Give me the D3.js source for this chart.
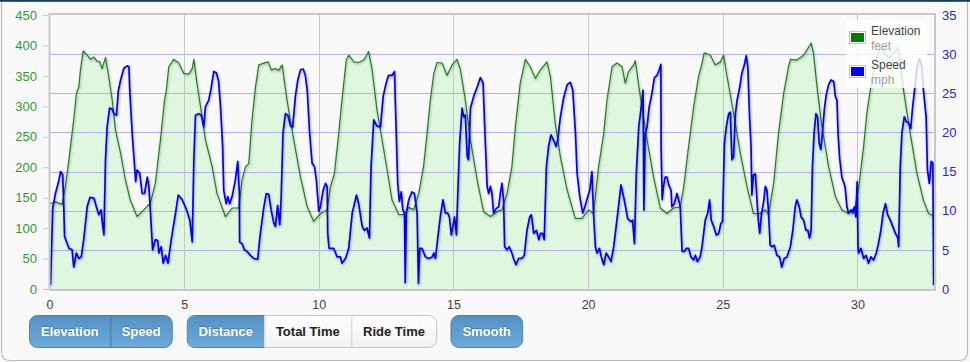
<!DOCTYPE html>
<html><head><meta charset="utf-8">
<script src="https://cdn.jsdelivr.net/npm/d3@7/dist/d3.min.js"></script>
<style>
html,body{margin:0;padding:0;background:#f9f9f9;overflow:hidden;}
svg{display:block;font-family:"Liberation Sans",Arial,Helvetica,sans-serif;}
</style></head><body>
<svg id="c" width="970" height="362"></svg>
<script>
// ---- data: [distance (mi), elevation (feet)] ----
const elevation = [
[0,140],[0.22,143],[0.47,139],[0.59,168],[0.72,212],[0.84,256],[0.90,278],[1.0,321],[1.09,332],[1.15,360],
[1.25,391],[1.40,384],[1.52,377],[1.65,381],[1.77,374],[1.87,373],[1.95,362],[2.08,380],[2.20,349],[2.33,310],
[2.45,261],[2.64,223],[2.82,179],[3.0,146],[3.25,119],[3.50,130],[3.75,142],[3.93,174],[4.12,245],[4.27,310],
[4.34,327],[4.43,365],[4.61,377],[4.80,371],[4.99,354],[5.17,353],[5.30,362],[5.36,377],[5.46,343],[5.61,299],
[5.79,245],[6.04,201],[6.22,157],[6.53,119],[6.78,133],[7.03,133],[7.15,179],[7.28,201],[7.40,206],[7.52,278],
[7.65,332],[7.77,368],[7.96,371],[8.12,373],[8.23,360],[8.39,362],[8.51,359],[8.64,368],[8.82,310],[9.07,245],
[9.32,184],[9.57,135],[9.81,111],[10.06,124],[10.31,130],[10.43,168],[10.58,190],[10.74,256],[10.86,310],[11.02,376],
[11.11,384],[11.30,373],[11.48,372],[11.67,376],[11.85,390],[11.98,360],[12.16,294],[12.35,245],[12.54,195],[12.72,146],
[12.97,122],[13.15,122],[13.34,134],[13.52,130],[13.71,157],[13.89,201],[14.02,256],[14.14,310],[14.27,354],[14.39,372],
[14.58,371],[14.76,351],[14.95,368],[15.13,377],[15.26,360],[15.44,310],[15.63,245],[15.88,179],[16.12,127],[16.37,119],
[16.62,127],[16.80,130],[16.99,157],[17.17,201],[17.30,267],[17.48,338],[17.67,377],[17.85,365],[18.04,346],[18.23,360],
[18.47,373],[18.60,349],[18.78,272],[18.97,217],[19.22,163],[19.52,116],[19.77,116],[20.02,130],[20.20,124],[20.39,201],
[20.58,256],[20.70,310],[20.89,365],[21.07,371],[21.26,365],[21.38,338],[21.50,357],[21.69,368],[21.75,375],[21.94,316],
[22.19,245],[22.43,184],[22.68,133],[22.93,124],[23.17,133],[23.42,135],[23.55,168],[23.73,234],[23.92,299],[24.10,349],
[24.23,371],[24.31,388],[24.54,384],[24.72,368],[24.91,373],[25.03,384],[25.16,349],[25.40,289],[25.65,223],[25.90,168],
[26.14,124],[26.39,124],[26.58,130],[26.70,122],[26.89,174],[27.07,256],[27.26,321],[27.44,365],[27.51,377],[27.75,376],
[28.00,384],[28.12,392],[28.28,404],[28.37,387],[28.50,332],[28.68,267],[28.93,201],[29.18,152],[29.42,130],[29.67,124],
[29.92,135],[30.05,168],[30.23,234],[30.35,289],[30.54,345],[30.70,380],[30.85,397],[31.18,379],[31.52,397],[31.71,327],
[31.96,256],[32.21,190],[32.45,146],[32.64,124],[32.85,120]
];
// ---- data: [distance (mi), speed (mph)] ----
const speed = [
[0,0.5],[0.04,0.7],[0.12,10.3],[0.22,12.2],[0.35,13.9],[0.41,15.0],[0.49,14.6],[0.53,10.5],[0.56,6.7],[0.72,5.2],
[0.84,5.0],[0.90,2.8],[1.00,4.6],[1.09,3.9],[1.18,4.1],[1.27,6.3],[1.40,10.5],[1.50,11.7],[1.65,11.6],[1.74,10.5],
[1.83,9.5],[1.92,10.1],[1.95,8.8],[2.02,6.9],[2.08,16.5],[2.14,20.7],[2.23,23.1],[2.33,23.0],[2.39,22.4],[2.49,22.2],
[2.55,25.2],[2.64,26.7],[2.76,28.2],[2.88,28.5],[2.95,28.4],[2.98,25.4],[3.07,19.9],[3.17,15.2],[3.20,13.7],[3.25,15.2],
[3.35,14.8],[3.44,12.2],[3.53,12.2],[3.63,14.3],[3.69,13.1],[3.75,9.7],[3.83,5.0],[3.93,6.3],[4.02,6.2],[4.06,4.6],
[4.15,5.4],[4.22,3.3],[4.31,4.3],[4.40,3.3],[4.52,6.3],[4.68,9.7],[4.78,12.0],[4.93,11.4],[5.09,10.1],[5.21,8.8],
[5.30,6.0],[5.36,16.5],[5.42,22.2],[5.54,22.4],[5.64,22.2],[5.73,20.7],[5.79,23.3],[5.91,24.1],[6.00,25.6],[6.10,27.8],
[6.20,27.6],[6.28,26.5],[6.35,23.3],[6.43,18.2],[6.47,12.6],[6.56,10.9],[6.62,11.8],[6.69,10.9],[6.78,11.8],[6.90,13.9],
[6.99,16.3],[7.05,12.2],[7.06,6.0],[7.15,5.8],[7.24,5.0],[7.34,4.8],[7.46,4.3],[7.58,3.9],[7.73,3.8],[7.83,7.1],
[7.96,10.5],[8.05,12.2],[8.14,12.1],[8.23,10.1],[8.33,8.4],[8.39,8.0],[8.47,10.7],[8.55,8.2],[8.60,11.4],[8.67,19.9],
[8.76,22.4],[8.85,22.2],[8.95,20.8],[9.03,20.7],[9.13,24.6],[9.22,26.7],[9.32,28.0],[9.42,28.1],[9.50,27.3],[9.57,25.4],
[9.66,19.9],[9.75,16.1],[9.84,15.6],[9.91,13.9],[10.00,9.9],[10.06,10.5],[10.16,12.6],[10.25,13.5],[10.31,13.1],[10.33,7.1],
[10.38,5.2],[10.55,5.2],[10.68,4.1],[10.80,4.1],[10.86,3.3],[10.99,3.9],[11.11,5.2],[11.24,9.7],[11.40,12.0],[11.48,10.9],
[11.61,8.0],[11.69,7.5],[11.79,7.8],[11.88,6.5],[11.94,15.6],[12.04,21.6],[12.16,20.8],[12.29,20.7],[12.39,24.6],[12.50,26.3],
[12.59,27.3],[12.72,27.3],[12.81,27.8],[12.84,24.1],[12.93,13.5],[12.99,11.2],[13.06,12.4],[13.12,10.1],[13.18,9.7],[13.21,0.8],
[13.25,9.7],[13.34,11.4],[13.46,12.4],[13.55,12.2],[13.65,9.7],[13.70,0.7],[13.75,5.2],[13.83,5.2],[13.96,4.1],[14.08,3.9],
[14.21,4.1],[14.27,4.6],[14.33,3.9],[14.41,6.3],[14.51,9.2],[14.61,11.4],[14.70,9.7],[14.79,9.7],[14.85,9.2],[14.92,6.9],
[14.98,8.0],[15.04,9.2],[15.11,6.9],[15.17,13.1],[15.23,18.6],[15.32,23.1],[15.38,22.0],[15.44,22.2],[15.51,16.9],[15.56,16.5],
[15.63,23.1],[15.75,24.6],[15.88,25.8],[16.00,27.0],[16.10,26.3],[16.16,20.7],[16.25,13.1],[16.31,12.2],[16.37,13.1],[16.43,12.2],
[16.49,9.7],[16.59,10.3],[16.68,10.5],[16.74,12.2],[16.80,13.5],[16.86,11.4],[16.90,5.4],[16.99,5.0],[17.07,5.4],[17.17,4.6],
[17.23,3.9],[17.32,3.1],[17.42,3.9],[17.54,3.9],[17.63,4.3],[17.73,7.5],[17.83,9.2],[17.89,9.5],[17.98,7.1],[18.08,7.5],
[18.17,6.3],[18.23,7.1],[18.31,7.1],[18.37,6.3],[18.45,15.6],[18.53,18.2],[18.62,19.7],[18.72,19.0],[18.81,18.2],[18.87,19.0],
[18.97,22.0],[19.09,24.4],[19.22,26.1],[19.34,26.4],[19.43,25.4],[19.53,19.9],[19.59,14.8],[19.69,11.8],[19.80,9.7],[19.88,10.5],
[19.96,11.5],[20.06,12.6],[20.14,15.0],[20.20,9.7],[20.27,5.4],[20.33,4.6],[20.42,5.2],[20.49,4.1],[20.58,3.1],[20.67,4.6],
[20.76,4.1],[20.85,3.5],[20.95,5.4],[21.10,9.7],[21.22,13.3],[21.34,11.4],[21.47,9.0],[21.59,8.6],[21.65,8.8],[21.72,5.8],
[21.79,14.8],[21.88,20.7],[21.96,22.9],[22.04,25.4],[22.07,10.1],[22.12,19.9],[22.19,20.7],[22.26,23.1],[22.37,25.0],[22.46,27.0],
[22.56,27.3],[22.64,28.0],[22.70,28.7],[22.71,18.2],[22.75,11.4],[22.80,13.1],[22.86,14.3],[22.93,14.3],[22.99,13.3],[23.08,12.6],
[23.11,10.5],[23.20,10.9],[23.30,12.2],[23.36,11.4],[23.42,10.5],[23.49,4.8],[23.57,4.8],[23.65,5.2],[23.73,5.2],[23.82,4.1],
[23.92,3.7],[23.98,4.3],[24.06,3.5],[24.16,4.1],[24.23,5.4],[24.35,8.8],[24.44,9.7],[24.51,11.4],[24.57,8.8],[24.66,8.0],
[24.76,6.9],[24.85,7.1],[24.93,8.4],[24.99,8.6],[25.06,18.6],[25.13,20.7],[25.22,22.4],[25.28,22.6],[25.34,16.5],[25.40,16.9],
[25.47,22.4],[25.53,24.1],[25.63,25.8],[25.71,27.6],[25.80,28.6],[25.87,29.8],[25.93,28.4],[26.00,21.6],[26.05,18.2],[26.08,12.0],
[26.14,14.6],[26.21,14.7],[26.24,13.1],[26.31,9.2],[26.37,7.1],[26.44,9.7],[26.52,11.2],[26.58,13.1],[26.64,12.6],[26.70,9.7],
[26.76,5.6],[26.83,5.4],[26.91,5.6],[27.01,4.3],[27.11,4.1],[27.19,2.8],[27.28,3.9],[27.38,4.1],[27.51,5.4],[27.60,7.5],
[27.69,10.5],[27.75,11.4],[27.84,10.5],[27.91,9.2],[28.00,8.8],[28.09,7.5],[28.16,7.5],[28.22,6.5],[28.28,7.5],[28.33,15.6],
[28.39,19.9],[28.46,22.4],[28.52,22.0],[28.58,18.6],[28.64,17.8],[28.72,20.7],[28.77,22.9],[28.84,24.8],[28.93,26.1],[29.02,26.7],
[29.12,26.5],[29.18,24.6],[29.24,24.1],[29.28,19.9],[29.34,16.7],[29.42,14.3],[29.48,13.7],[29.54,13.1],[29.61,10.5],[29.67,9.7],
[29.76,10.1],[29.83,9.7],[29.89,10.5],[29.94,9.2],[29.99,13.7],[30.02,5.5],[30.04,4.6],[30.13,5.2],[30.23,3.9],[30.32,4.3],
[30.41,3.3],[30.50,4.1],[30.60,3.7],[30.70,4.6],[30.78,5.8],[30.87,7.5],[30.95,9.7],[31.04,10.9],[31.12,9.5],[31.22,8.8],
[31.31,8.0],[31.41,7.1],[31.50,6.5],[31.53,5.4],[31.59,15.6],[31.65,19.9],[31.74,22.0],[31.81,21.4],[31.90,21.2],[31.98,20.5],
[32.04,22.9],[32.12,25.4],[32.22,28.5],[32.30,29.4],[32.38,28.5],[32.45,25.4],[32.55,22.0],[32.60,15.2],[32.67,13.5],[32.74,16.3],
[32.80,16.1],[32.83,0.5]
];
const elevTicks = [0,50,100,150,200,250,300,350,400,450];
const speedTicks = [0,5,10,15,20,25,30,35];
const distTicks = [0,5,10,15,20,25,30];
const legendNames = ["Elevation","Speed"];
const legendUnits = ["feet","mph"];
const legendColors = ["#008000","#0000ff"];
const buttonGroups = [["Elevation","Speed"],["Distance","Total Time","Ride Time"],["Smooth"]];
const buttonActive = [[true,true],[true,false,false],[true]];

// ---- layout ----
const svg = d3.select("#c");
const L = 49.5, R = 935, T = 15, B = 289;
const x = d3.scaleLinear().domain([0, 32.88]).range([L, R]);
const yE = d3.scaleLinear().domain([0, 450]).range([B, T]);
const yS = d3.scaleLinear().domain([0, 35]).range([B, T]);

const defs = svg.append("defs");
const f = defs.append("filter").attr("id","sh").attr("x","-5%").attr("y","-5%").attr("width","110%").attr("height","120%");
f.append("feDropShadow").attr("dx",0.6).attr("dy",1.2).attr("stdDeviation",0.9).attr("flood-color","#000").attr("flood-opacity",0.35);
const gBlue = defs.append("linearGradient").attr("id","gb").attr("x1",0).attr("y1",0).attr("x2",0).attr("y2",1);
gBlue.append("stop").attr("offset","0%").attr("stop-color","#5590c4");
gBlue.append("stop").attr("offset","100%").attr("stop-color","#6cabda");
const gWhite = defs.append("linearGradient").attr("id","gw").attr("x1",0).attr("y1",0).attr("x2",0).attr("y2",1);
gWhite.append("stop").attr("offset","0%").attr("stop-color","#ffffff");
gWhite.append("stop").attr("offset","100%").attr("stop-color","#f1f1f1");
const tsh = defs.append("filter").attr("id","tsh").attr("x","-10%").attr("y","-20%").attr("width","120%").attr("height","150%");
tsh.append("feDropShadow").attr("dx",0).attr("dy",-0.8).attr("stdDeviation",0.3).attr("flood-color","#1d4f7a").attr("flood-opacity",0.6);

// page background & frame
svg.append("rect").attr("width",970).attr("height",362).attr("fill","#f9f9f9");
svg.append("path").attr("d","M1.5,0 V352 Q1.5,360.5 10,360.5 H959 Q967.5,360.5 967.5,352 V0")
  .attr("fill","none").attr("stroke","#bdbdbd").attr("stroke-width",1.2);
svg.append("rect").attr("x",0).attr("y",0).attr("width",970).attr("height",1.8).attr("fill","#0f3f60");

// elevation area
svg.append("path").datum(elevation)
  .attr("d", d3.area().x(d=>x(d[0])).y0(B).y1(d=>yE(d[1])))
  .attr("fill","#dff7df");

// vertical grid (distance)
svg.append("g").selectAll("line").data(distTicks.filter(d=>d>0)).join("line")
  .attr("x1",d=>Math.round(x(d))+0.5).attr("x2",d=>Math.round(x(d))+0.5)
  .attr("y1",T).attr("y2",B).attr("stroke","#c4c9c4").attr("stroke-width",1);
// horizontal grid (speed)
svg.append("g").selectAll("line").data(speedTicks.filter(d=>d>0 && d<35)).join("line")
  .attr("x1",L).attr("x2",R)
  .attr("y1",d=>Math.round(yS(d))+0.5).attr("y2",d=>Math.round(yS(d))+0.5)
  .attr("stroke","#b3b3f2").attr("stroke-width",1);

// elevation line
svg.append("path").datum(elevation)
  .attr("d", d3.line().x(d=>x(d[0])).y(d=>yE(d[1])))
  .attr("fill","none").attr("stroke","#1f7f1f").attr("stroke-width",1.2)
  .attr("stroke-linejoin","round").attr("filter","url(#sh)");
// speed line
svg.append("path").datum(speed)
  .attr("d", d3.line().x(d=>x(d[0])).y(d=>yS(d[1])))
  .attr("fill","none").attr("stroke","#0000ff").attr("stroke-width",1.7)
  .attr("stroke-linejoin","round").attr("filter","url(#sh)");

// plot border
svg.append("path").attr("d",`M${L},${T-1} H${R} V${B+1} H${L} Z`)
  .attr("fill","none").attr("stroke","#c8c8c8").attr("stroke-width",2);

// left axis (elevation)
const ax1 = svg.append("g").attr("transform",`translate(${L-1.5},0)`)
  .call(d3.axisLeft(yE).tickValues(elevTicks).tickSize(5).tickPadding(6));
ax1.select(".domain").remove();
ax1.selectAll("line").attr("stroke","#c8c8c8");
ax1.selectAll("text").attr("fill","#2e9a2e").style("font-size","13px").style("font-family","Liberation Sans, Arial, sans-serif");

// right axis (speed)
const ax2 = svg.append("g").attr("transform",`translate(${R},0)`)
  .call(d3.axisRight(yS).tickValues(speedTicks).tickSize(0).tickPadding(7));
ax2.select(".domain").remove();
ax2.selectAll("text").attr("fill","#2222ee").style("font-size","13px").style("font-family","Liberation Sans, Arial, sans-serif");

// bottom axis (distance)
const ax3 = svg.append("g").attr("transform",`translate(0,${B})`)
  .call(d3.axisBottom(x).tickValues(distTicks).tickSize(0).tickPadding(11));
ax3.select(".domain").remove();
ax3.selectAll("text").attr("fill","#444").style("font-size","12.5px").style("font-family","Liberation Sans, Arial, sans-serif");

// legend
const lg = svg.append("g");
lg.append("rect").attr("x",846).attr("y",20).attr("width",81).attr("height",68)
  .attr("fill","#ffffff").attr("fill-opacity",0.82);
legendNames.forEach((n,i)=>{
  const yy = 31.5 + i*34;
  lg.append("rect").attr("x",849.5).attr("y",yy).attr("width",16).attr("height",12)
    .attr("fill","#fff").attr("stroke","#c4c4c4").attr("stroke-width",1);
  lg.append("rect").attr("x",851).attr("y",yy+1.5).attr("width",13).attr("height",9).attr("fill",legendColors[i]);
  lg.append("text").attr("x",871).attr("y",yy+3.5).text(n)
    .attr("fill","#444").style("font-size","12px");
  lg.append("text").attr("x",871).attr("y",yy+18).text(legendUnits[i])
    .attr("fill","#a0a0a0").style("font-size","12px");
});

// buttons
const groupX = [29.5, 187.3, 451];
const groupW = [[80.8,62],[77,87,85.4],[71.7]];
const by = 315.5, bh = 32;
buttonGroups.forEach((grp,gi)=>{
  let cx = groupX[gi];
  const total = d3.sum(groupW[gi]);
  const g = svg.append("g");
  const clipId = "cl"+gi;
  defs.append("clipPath").attr("id",clipId).append("rect")
    .attr("x",groupX[gi]).attr("y",by).attr("width",total).attr("height",bh).attr("rx",8);
  const inner = g.append("g").attr("clip-path",`url(#${clipId})`);
  grp.forEach((label,bi)=>{
    const w = groupW[gi][bi];
    const act = buttonActive[gi][bi];
    inner.append("rect").attr("x",cx).attr("y",by).attr("width",w).attr("height",bh)
      .attr("fill", act ? "url(#gb)" : "url(#gw)");
    if (bi>0) inner.append("line").attr("x1",cx+0.5).attr("x2",cx+0.5).attr("y1",by).attr("y2",by+bh)
      .attr("stroke", act && buttonActive[gi][bi-1] ? "#3b73a3" : "#d0d0d0");
    g.append("text").attr("x",cx+w/2).attr("y",by+20.5).attr("text-anchor","middle").text(label)
      .attr("fill", act ? "#ffffff" : "#222").style("font-size","13px").style("font-weight","bold")
      .attr("filter", act ? "url(#tsh)" : null);
    cx += w;
  });
  g.append("rect").attr("x",groupX[gi]).attr("y",by).attr("width",total).attr("height",bh).attr("rx",8)
    .attr("fill","none").attr("stroke", grp.length>1 && !buttonActive[gi][grp.length-1] ? "#c6c6c6" : "#4b82b3").attr("stroke-width",1);
});
{
  const gi = 1;
  svg.append("path").attr("d",`M${groupX[gi]+77},${by} H${groupX[gi]+8} Q${groupX[gi]},${by} ${groupX[gi]},${by+8} V${by+bh-8} Q${groupX[gi]},${by+bh} ${groupX[gi]+8},${by+bh} H${groupX[gi]+77}`)
    .attr("fill","none").attr("stroke","#4b82b3").attr("stroke-width",1);
}
</script>
</body></html>
